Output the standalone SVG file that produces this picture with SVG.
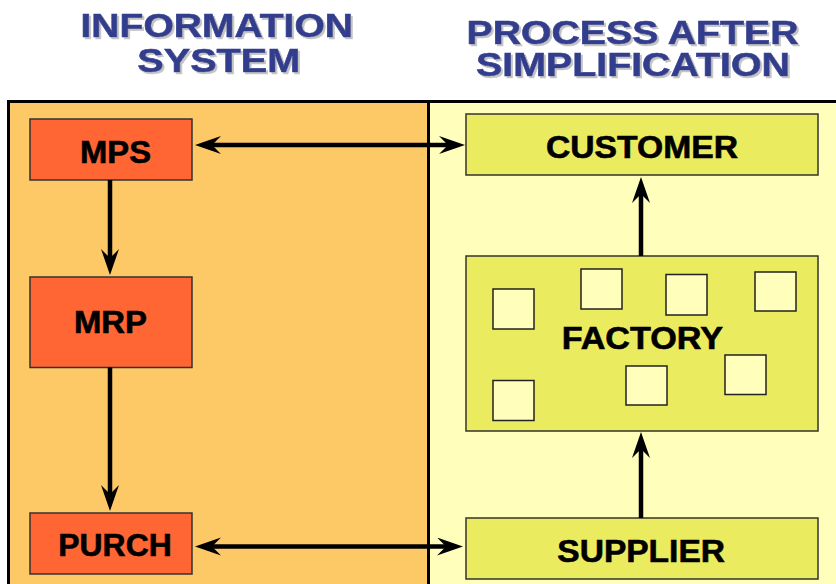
<svg xmlns="http://www.w3.org/2000/svg" width="836" height="584" viewBox="0 0 836 584">
  <style>
    .title { font-family: "Liberation Sans", Arial, sans-serif; font-weight: bold; font-size: 32.5px; fill: #323E8E; stroke: #323E8E; stroke-width: 0.6; filter: url(#drop); }
    .label { font-family: "Liberation Sans", Arial, sans-serif; font-weight: bold; font-size: 31px; fill: #000; stroke: #000; stroke-width: 0.6; }
    .sys { fill: #FF6633; stroke: #333; stroke-width: 1.5; }
    .proc { fill: #EBEB5F; stroke: #333; stroke-width: 1.5; }
    .machine { fill: #FFFFBB; stroke: #222; stroke-width: 1.5; }
    .flow { stroke: #000; stroke-width: 4.5; fill: none; marker-end: url(#head); }
    .both { stroke: #000; stroke-width: 4.5; fill: none; marker-start: url(#head); marker-end: url(#head); }
  </style>
  <defs>
    <!-- soft grey drop shadow under the headings -->
    <filter id="drop" x="-5%" y="-20%" width="110%" height="150%">
      <feOffset in="SourceAlpha" dx="2" dy="2" result="off"/>
      <feFlood flood-color="#C4C4C4"/>
      <feComposite in2="off" operator="in" result="shade"/>
      <feMerge>
        <feMergeNode in="shade"/>
        <feMergeNode in="SourceGraphic"/>
      </feMerge>
    </filter>
    <marker id="head" markerUnits="userSpaceOnUse" markerWidth="28" markerHeight="20" refX="9" refY="9" orient="auto-start-reverse">
      <path d="M0,0 L26,9 L0,18 L9,9 Z" fill="#000"/>
    </marker>
  </defs>

  <rect x="0" y="0" width="836" height="584" fill="#FFFFFF"/>

  <!-- headings -->
  <g id="heading-left">
    <text class="title" x="80.5" y="36.7" textLength="272.5" lengthAdjust="spacingAndGlyphs">INFORMATION</text>
    <text class="title" x="137.3" y="72" textLength="163" lengthAdjust="spacingAndGlyphs">SYSTEM</text>
  </g>
  <g id="heading-right">
    <text class="title" x="466.5" y="43.5" textLength="332" lengthAdjust="spacingAndGlyphs">PROCESS AFTER</text>
    <text class="title" x="476" y="76" textLength="314" lengthAdjust="spacingAndGlyphs">SIMPLIFICATION</text>
  </g>

  <!-- panels -->
  <g id="panel-system">
    <rect x="8.5" y="101.5" width="420" height="500" fill="#FDC966" stroke="#000" stroke-width="3"/>
  </g>
  <g id="panel-process">
    <rect x="428.5" y="101.5" width="420" height="500" fill="#FFFFBB" stroke="#000" stroke-width="3"/>
  </g>

  <!-- information system nodes -->
  <g id="mps">
    <rect class="sys" x="30" y="119" width="162" height="61"/>
    <text class="label" x="80" y="162.7" textLength="71" lengthAdjust="spacingAndGlyphs">MPS</text>
  </g>
  <g id="mrp">
    <rect class="sys" x="30" y="277" width="162" height="90.5"/>
    <text class="label" x="74" y="332.7" textLength="73" lengthAdjust="spacingAndGlyphs">MRP</text>
  </g>
  <g id="purch">
    <rect class="sys" x="30" y="513" width="162" height="61"/>
    <text class="label" x="58.3" y="556" textLength="113.4" lengthAdjust="spacingAndGlyphs">PURCH</text>
  </g>

  <!-- process nodes -->
  <g id="customer">
    <rect class="proc" x="466" y="114" width="352" height="61"/>
    <text class="label" x="546" y="158.3" textLength="192" lengthAdjust="spacingAndGlyphs">CUSTOMER</text>
  </g>
  <g id="factory">
    <rect class="proc" x="466" y="256" width="352" height="175"/>
    <rect class="machine" x="493" y="289" width="41" height="40"/>
    <rect class="machine" x="581" y="269" width="41" height="40"/>
    <rect class="machine" x="666" y="274.5" width="41" height="40.5"/>
    <rect class="machine" x="755" y="272" width="41" height="39"/>
    <rect class="machine" x="493" y="380.5" width="41" height="40"/>
    <rect class="machine" x="626" y="366" width="41" height="39"/>
    <rect class="machine" x="725" y="355" width="41" height="39.5"/>
    <text class="label" x="561.7" y="349.3" textLength="161.3" lengthAdjust="spacingAndGlyphs">FACTORY</text>
  </g>
  <g id="supplier">
    <rect class="proc" x="466" y="518" width="352" height="61"/>
    <text class="label" x="557.3" y="561.7" textLength="167.7" lengthAdjust="spacingAndGlyphs">SUPPLIER</text>
  </g>

  <!-- connectors -->
  <g id="connectors">
    <line class="flow" x1="110" y1="180" x2="110" y2="258"/>
    <line class="flow" x1="110" y1="367.5" x2="110" y2="494"/>
    <line class="flow" x1="641" y1="518" x2="641" y2="449"/>
    <line class="flow" x1="641" y1="256" x2="641" y2="194"/>
    <line class="both" x1="212" y1="145" x2="448" y2="145"/>
    <line class="both" x1="212" y1="546.5" x2="446" y2="546.5"/>
  </g>
</svg>
